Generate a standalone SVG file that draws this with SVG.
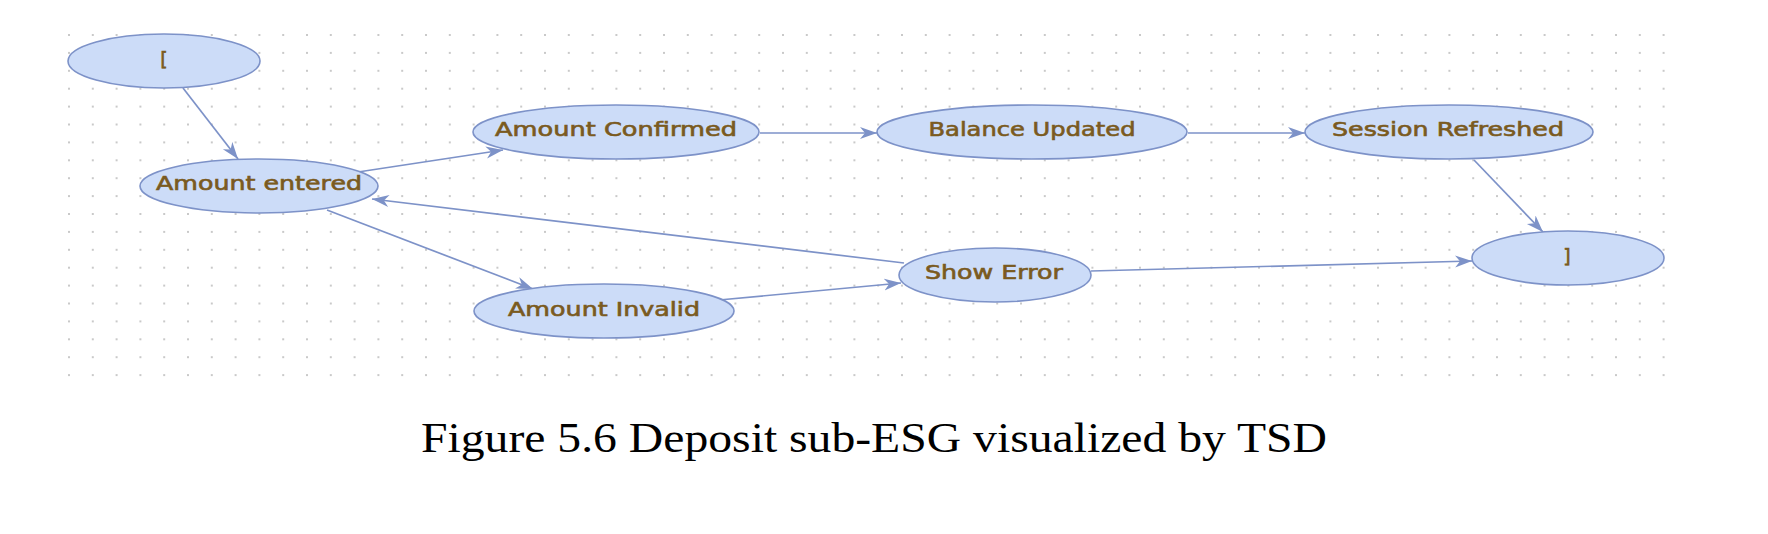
<svg xmlns="http://www.w3.org/2000/svg" width="1768" height="534" viewBox="0 0 1768 534">
  <style>
    .node ellipse { fill: #ccdcf8; stroke: #7d92c8; stroke-width: 1.6; }
    .node text { font-family: "DejaVu Sans", "Liberation Sans", sans-serif; font-size: 19px; fill: #7a5a20; stroke: #7a5a20; stroke-width: 0.6; text-anchor: middle; }
    .edge { stroke: #7d92c8; stroke-width: 1.7; fill: none; marker-end: url(#arrow); }
    .caption { font-family: "Liberation Serif", "Times New Roman", serif; font-size: 42px; fill: #000; }
  </style>
  <defs>
    <pattern id="dots" x="69" y="35" width="23.8" height="17.9" patternUnits="userSpaceOnUse">
      <rect x="-1" y="-1" width="2" height="2" fill="#c9c9c9"/>
      <rect x="22.8" y="-1" width="2" height="2" fill="#c9c9c9"/>
      <rect x="-1" y="16.9" width="2" height="2" fill="#c9c9c9"/>
      <rect x="22.8" y="16.9" width="2" height="2" fill="#c9c9c9"/>
    </pattern>
    <marker id="arrow" markerUnits="userSpaceOnUse" markerWidth="18" markerHeight="14" refX="17" refY="6" orient="auto" viewBox="0 0 18 12">
      <path d="M0,0 L17,6 L0,12 L5,6 z" fill="#7d92c8"/>
    </marker>
  </defs>
  <rect width="1768" height="534" fill="#ffffff"/>
  <rect x="68" y="34" width="1598" height="343" fill="url(#dots)"/>

  <g id="connectors">
    <line class="edge" x1="183" y1="88" x2="238" y2="159"/>
    <line class="edge" x1="358" y1="172" x2="503" y2="150"/>
    <line class="edge" x1="760" y1="133" x2="877" y2="133"/>
    <line class="edge" x1="1188" y1="133" x2="1305" y2="133"/>
    <line class="edge" x1="1474" y1="160" x2="1543" y2="232"/>
    <line class="edge" x1="327" y1="210" x2="533" y2="289"/>
    <line class="edge" x1="719" y1="300" x2="901" y2="283"/>
    <line class="edge" x1="904" y1="263" x2="372" y2="199"/>
    <line class="edge" x1="1091" y1="271" x2="1472" y2="261"/>
  </g>

  <g id="node-start" class="node">
    <ellipse cx="164" cy="61" rx="96" ry="27"/>
    <text x="164" y="66">[</text>
  </g>
  <g id="node-amount-entered" class="node">
    <ellipse cx="259" cy="186" rx="119" ry="27"/>
    <text x="259" y="190" textLength="206" lengthAdjust="spacingAndGlyphs">Amount entered</text>
  </g>
  <g id="node-amount-confirmed" class="node">
    <ellipse cx="616" cy="132" rx="143" ry="27"/>
    <text x="616" y="136" textLength="242" lengthAdjust="spacingAndGlyphs">Amount Confirmed</text>
  </g>
  <g id="node-balance-updated" class="node">
    <ellipse cx="1032" cy="132" rx="155" ry="27"/>
    <text x="1032" y="136" textLength="207" lengthAdjust="spacingAndGlyphs">Balance Updated</text>
  </g>
  <g id="node-session-refreshed" class="node">
    <ellipse cx="1449" cy="132" rx="144" ry="27"/>
    <text x="1448" y="136" textLength="232" lengthAdjust="spacingAndGlyphs">Session Refreshed</text>
  </g>
  <g id="node-end" class="node">
    <ellipse cx="1568" cy="258" rx="96" ry="27"/>
    <text x="1567" y="263">]</text>
  </g>
  <g id="node-amount-invalid" class="node">
    <ellipse cx="604" cy="311" rx="130" ry="27"/>
    <text x="604" y="316" textLength="192" lengthAdjust="spacingAndGlyphs">Amount Invalid</text>
  </g>
  <g id="node-show-error" class="node">
    <ellipse cx="995" cy="275" rx="96" ry="27"/>
    <text x="994" y="279" textLength="138" lengthAdjust="spacingAndGlyphs">Show Error</text>
  </g>

  <text class="caption" x="421" y="452" textLength="906" lengthAdjust="spacingAndGlyphs">Figure 5.6 Deposit sub-ESG visualized by TSD</text>
</svg>
